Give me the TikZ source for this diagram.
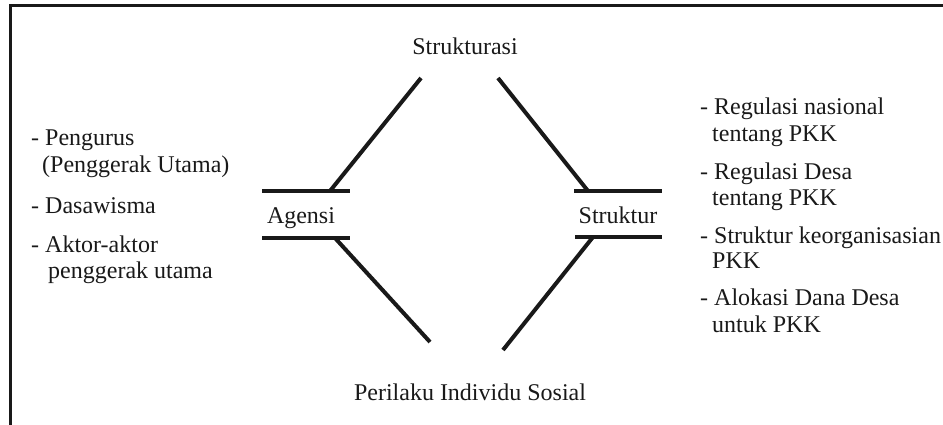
\documentclass[tikz,border=0pt]{standalone}
\usepackage{fontspec}
\setmainfont{Liberation Serif}
\begin{document}
\begin{tikzpicture}[x=1pt,y=-1pt,
  lbl/.style={inner sep=0pt,font=\fontsize{24}{28}\selectfont,text=black!90},
  itm/.style={lbl,anchor=base west},
  ctr/.style={lbl,anchor=base},
  bar/.style={line width=4pt,black!90},
  diag/.style={line width=4pt,black!90},
  frame/.style={line width=3pt,black!90}]
\useasboundingbox (0,0) rectangle (943,425);
% frame (top and left edges)
\coordinate (fbl) at (10,425);
\coordinate (ftl) at (10,6);
\coordinate (ftr) at (943,6);
\draw[frame] (fbl) -- (ftl) -- (ftr);
% main labels
\node[ctr] (strukturasi) at (465,55) {Strukturasi};
\node[ctr] (agensi) at (301,223) {Agensi};
\node[ctr] (struktur) at (618,223) {Struktur};
\node[ctr] (perilaku) at (470,400) {Perilaku Individu Sosial};
% bars
\coordinate (atl) at (262,191); \coordinate (atr) at (350,191);
\coordinate (abl) at (262,238); \coordinate (abr) at (350,238);
\coordinate (stl) at (574,191); \coordinate (str) at (662,191);
\coordinate (sbl) at (575,237); \coordinate (sbr) at (662,237);
\draw[bar] (atl) -- (atr);
\draw[bar] (abl) -- (abr);
\draw[bar] (stl) -- (str);
\draw[bar] (sbl) -- (sbr);
% diagonals
\coordinate (ul0) at (421,78);  \coordinate (ul1) at (330,191);
\coordinate (ur0) at (498,78);  \coordinate (ur1) at (588,191);
\coordinate (ll0) at (335,238); \coordinate (ll1) at (430,342);
\coordinate (lr0) at (593,237); \coordinate (lr1) at (503,350);
\draw[diag] (ul0) -- (ul1);
\draw[diag] (ur0) -- (ur1);
\draw[diag] (ll0) -- (ll1);
\draw[diag] (lr0) -- (lr1);
% left list
\node[itm] (l1a) at (31,146) {- Pengurus};
\node[itm] (l1b) at (42,173) {(Penggerak Utama)};
\node[itm] (l2a) at (31,213) {- Dasawisma};
\node[itm] (l3a) at (31,252) {- Aktor-aktor};
\node[itm] (l3b) at (48,278) {penggerak utama};
% right list
\node[itm] (r1a) at (700,115) {- Regulasi nasional};
\node[itm] (r1b) at (712,142) {tentang PKK};
\node[itm] (r2a) at (700,180) {- Regulasi Desa};
\node[itm] (r2b) at (712,205) {tentang PKK};
\node[itm] (r3a) at (700,243) {- Struktur keorganisasian};
\node[itm] (r3b) at (712,268) {PKK};
\node[itm] (r4a) at (700,305) {- Alokasi Dana Desa};
\node[itm] (r4b) at (712,332) {untuk PKK};
\end{tikzpicture}
\end{document}
